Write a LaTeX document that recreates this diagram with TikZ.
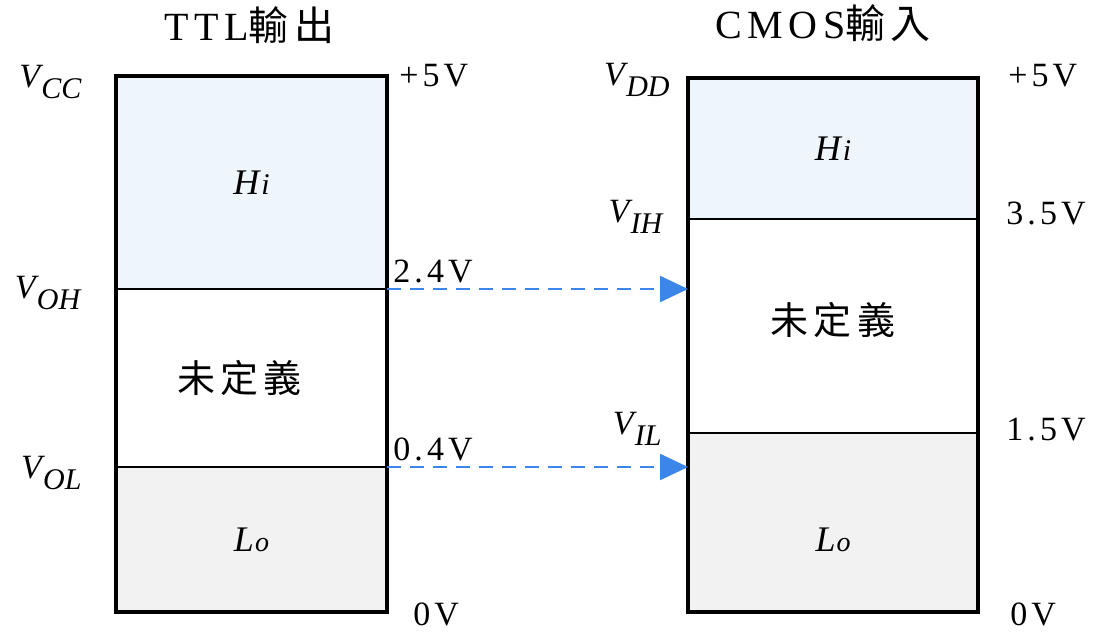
\documentclass[tikz,border=0pt]{standalone}
\usepackage{fontspec}
\setmainfont{Liberation Serif}
\newfontfamily\spaced[LetterSpace=12]{Liberation Serif}
\newfontfamily\spacedwide[LetterSpace=14]{Liberation Serif}
\newfontfamily\cjkwide[LetterSpace=14]{Noto Sans CJK TC}
\usetikzlibrary{
  arrows.meta,
  positioning,
  calc
}
\definecolor{lvHi}{HTML}{EEF5FB}
\definecolor{lvLo}{HTML}{F2F2F2}
\definecolor{lvArrow}{HTML}{3C86EA}
\newcommand{\vsym}[1]{\textit{V}\kern-1pt\raisebox{-0.32em}{\fontsize{15}{15}\selectfont\textit{#1}}}
\newcommand{\hilab}{\textit{H\kern1pt{\fontsize{15}{15}\selectfont i}}}
\newcommand{\lolab}{\textit{L\kern0.5pt{\fontsize{14}{14}\selectfont o}}}
\tikzset{
  band/.style={
    draw=black, line width=0.8pt, inner sep=0pt, outer sep=0pt,
    font=\fontsize{18}{20}\selectfont
  },
  ttlband/.style={band, minimum width=135.5pt},
  cmosband/.style={band, minimum width=145pt},
  frame/.style={line width=2pt, line join=miter},
  sig/.style={-{Triangle[length=14pt, width=13pt]}, line width=1.2pt, lvArrow,
    dash pattern=on 7pt off 4.5pt},
  vtag/.style={font=\spaced\fontsize{17}{20}\selectfont, inner sep=2pt},
  vsig/.style={font=\fontsize{17}{20}\selectfont, inner sep=0pt},
  title/.style={font=\fontsize{20}{24}\selectfont, inner sep=0pt}
}

\begin{document}
\begin{tikzpicture}[x=0.5pt, y=-0.5pt, node distance=0pt]
  \useasboundingbox (0,0) rectangle (1112,632);

  % TTL side
  \node[ttlband, fill=lvHi, minimum height=106.5pt] (ttlhi) at (251.5,182.5) {\raisebox{-3pt}{\hilab}};
  \node[ttlband, fill=white, minimum height=89pt, below=of ttlhi] (ttlund) {\hspace*{-12pt}{\cjkwide\fontsize{19}{20}\selectfont 未定義}};
  \node[ttlband, fill=lvLo, minimum height=72.5pt, below=of ttlund] (ttllo) {\lolab};
  \draw[frame] (ttlhi.north west) rectangle (ttllo.south east);

  % CMOS side
  \node[cmosband, fill=lvHi, minimum height=70.5pt] (cmoshi) at (833,148.5) {\hilab};
  \node[cmosband, fill=white, minimum height=107pt, below=of cmoshi] (cmosund) {\raisebox{-4pt}[0pt][0pt]{\cjkwide\fontsize{19}{20}\selectfont 未定義}};
  \node[cmosband, fill=lvLo, minimum height=89.5pt, below=of cmosund] (cmoslo) {\raisebox{-14.5pt}[0pt][0pt]{\lolab}};
  \draw[frame] (cmoshi.north west) rectangle (cmoslo.south east);

  % titles
  \node[title, above=16pt of ttlhi.north, xshift=-1pt] (ttltitle) {{\spacedwide TTL}{\cjkwide 輸出}};
  \node[title, above=18pt of cmoshi.north, xshift=-5pt] (cmostitle) {{\spacedwide CMOS}{\cjkwide 輸入}};

  % level symbols
  \node[vsig, left=17pt of ttlhi.north west, yshift=-3pt] (vcc) {\vsym{CC}};
  \node[vsig, left=17pt of ttlhi.south west, yshift=-2pt] (voh) {\vsym{OH}};
  \node[vsig, left=17pt of ttllo.north west, yshift=-3pt] (vol) {\vsym{OL}};
  \node[vsig, left=9pt of cmoshi.north west, yshift=-1pt] (vdd) {\vsym{DD}};
  \node[vsig, left=12pt of cmoshi.south west, yshift=1pt] (vih) {\vsym{IH}};
  \node[vsig, left=13pt of cmoslo.north west, yshift=2pt] (vil) {\vsym{IL}};

  % voltages
  \node[vtag, anchor=west, xshift=4pt] (ttlfive) at (ttlhi.north east) {+5V};
  \node[vtag, anchor=south west, xshift=1pt, yshift=1pt] (ttlhigh) at (ttlhi.south east) {2.4V};
  \node[vtag, anchor=south west, xshift=1pt, yshift=1pt] (ttllow) at (ttllo.north east) {0.4V};
  \node[vtag, anchor=west, xshift=11pt, yshift=-1pt] (ttlzero) at (ttllo.south east) {0V};
  \node[vtag, anchor=west, xshift=13pt, yshift=1pt] (cmosfive) at (cmoshi.north east) {+5V};
  \node[vtag, anchor=west, xshift=12pt, yshift=3pt] (cmoshigh) at (cmoshi.south east) {3.5V};
  \node[vtag, anchor=west, xshift=12pt, yshift=1.5pt] (cmoslow) at (cmoslo.north east) {1.5V};
  \node[vtag, anchor=west, xshift=14pt, yshift=-1pt] (cmoszero) at (cmoslo.south east) {0V};

  % TTL levels into CMOS input
  \draw[sig] (ttlhi.south east) -- (ttlhi.south east -| cmosund.west);
  \draw[sig] (ttllo.north east) -- (ttllo.north east -| cmoslo.west);
\end{tikzpicture}
\end{document}
